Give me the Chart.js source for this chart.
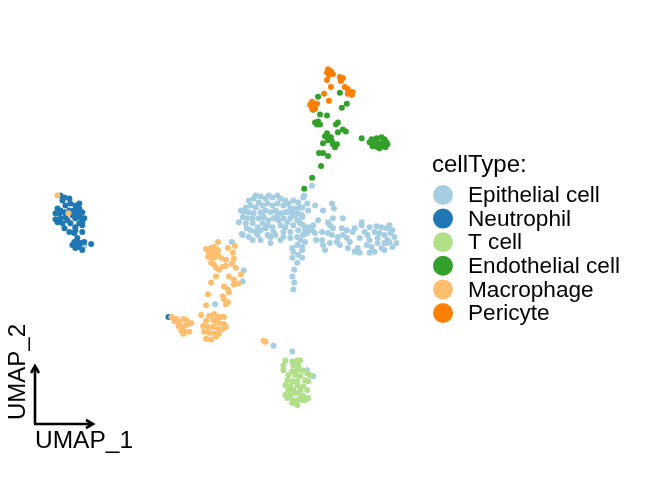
<!DOCTYPE html>
<html>
<head>
<meta charset="utf-8">
<script src="https://cdn.jsdelivr.net/npm/chart.js@4/dist/chart.umd.min.js"></script>
<style>
html,body{margin:0;padding:0;background:#fff;}
#wrap{width:650px;height:480px;position:relative;}
</style>
</head>
<body>
<div id="wrap"><canvas id="c" width="650" height="480"></canvas></div>
<script>
// Cell types and colours (legend order)
const cellTypes = ["Epithelial cell","Neutrophil","T cell","Endothelial cell","Macrophage","Pericyte"];
const cellColors = ["#A6CEE3","#1F78B4","#B2DF8A","#33A02C","#FDBF6F","#FF7F00"];
const legendTitle = "cellType:";
const axisNames = ["UMAP_1","UMAP_2"];

// Embedding coordinates (UMAP_1, UMAP_2 in plot units; UMAP_2 grows downward in these units)
const epithelial = [
[268,195],[272,197],[277,195],[265,198],[293,200],[298,202],
[248,200],[253,198],[258,202],[250,205],[245,207],[255,207],[262,205],[267,203],[272,205],[277,203],[283,205],[288,203],[295,208],[300,207],
[243,212],[248,212],[253,213],[260,212],[265,210],[270,212],[275,210],[280,213],[287,212],[292,213],[298,213],
[242,217],[247,218],[252,218],[258,218],[263,217],[268,220],[273,218],[278,220],[283,218],[290,218],[297,220],[302,217],
[245,223],[252,223],[257,227],[262,223],[267,225],[272,227],[280,225],[285,227],[293,225],[300,223],
[250,230],[255,232],[260,230],[265,228],[273,232],[283,232],[290,232],[298,230],
[242,235],[248,237],[257,235],[267,235],[270,237],[275,235],[290,238],[297,237],[303,235],
[240,210],[238,222],[246,228],[252,240],[260,240],[270,243],[280,240],[285,212],[290,208],[280,198],[285,200],[260,196],[255,195],
[300,240],[305,230],[262,213],[277,215],[287,222],[295,215],[283,237],
[297,245],[292,248],[302,247],[293,252],[298,255],[292,258],[302,258],[297,263],
[294,270],[292,277],[294,283],[293,290],
[312,185],[304,195],[303,197],
[307,203],[308,210],[315,205],[323,210],[332,203],[334,208],[302,207],[302,215],
[318,220],[333,218],[343,218],[328,222],
[303,225],[308,227],[313,225],[312,230],[330,225],[333,228],[342,228],[347,230],[353,232],[362,222],[362,225],[370,227],[365,232],[377,226],[382,227],[387,228],[390,225],[393,230],
[307,233],[315,233],[322,232],[328,233],[332,235],[338,237],[343,235],[347,238],[360,238],[368,235],[378,238],[385,235],[388,240],[395,237],
[305,242],[322,240],[323,245],[330,243],[337,242],[350,242],[358,248],[367,245],[372,247],[378,243],[385,243],[390,242],[397,243],
[302,250],[325,250],[348,248],[355,252],[360,253],[370,253],[375,252],[382,248],[387,243],
[375,232],[380,233],[391,233],[393,247],[370,240],[385,250],[355,228],[340,245],[316,240],
[241,234],[231,242],[243,271],[242,282],[214,305],
[273,347],[292,353],[307,372],[313,378],[82,246]
];
const neutrophil = [
[58,195],[62,197],[60,200],[67,198],[68,203],[63,205],[73,205],[77,203],[55,208],[58,210],[53,213],[57,213],[62,212],[67,210],[72,210],[77,208],
[80,212],[75,213],[70,215],[63,217],[58,218],[55,222],[60,223],[65,220],[73,218],[78,217],[82,218],[80,222],[77,223],[68,223],[73,227],[80,225],
[62,228],[67,232],[72,233],[73,230],[80,232],[75,238],[72,242],[70,245],[75,243],[77,247],[78,243],[82,242],[73,248],[80,250],[89,244],[53,219],
[167,318]
];
const tcell = [
[285,362],[292,363],[297,362],[300,362],[283,367],[293,367],[298,367],[283,372],[292,373],[297,372],[302,372],[288,377],[295,377],[300,378],[307,375],[310,377],
[287,382],[292,383],[297,383],[305,382],[308,383],[285,387],[290,388],[297,387],[303,388],[288,392],[293,392],[300,392],[307,392],
[285,397],[290,397],[295,395],[300,397],[303,398],[287,400],[292,402],[297,402],[302,402],[292,405],[297,407],[305,402],[308,400]
];
const endothelial = [
[318,95],[340,91],[347,102],[342,106],[313,108],[320,113],[327,114],[318,120],[315,121],[317,123],[320,123],[338,121],[336,123],
[343,128],[338,131],[346,130],[327,132],[328,135],[325,135],[331,136],[332,140],[328,139],[323,142],[333,143],[337,143],[335,146],
[362,137],[372,138],[377,137],[382,136],[385,138],[375,142],[380,142],[383,142],[387,141],[373,145],[378,146],[383,145],[388,143],[380,147],[370,141],[386,146],[376,140],
[323,152],[319,152],[328,155],[321,165],[312,177],[304,188]
];
const macrophage = [
[217,242],[227,248],[234,246],[205,249],[210,248],[213,247],[217,250],[208,253],[212,253],[207,257],[210,258],[213,258],[217,255],[220,258],[225,260],[232,253],[233,259],
[210,263],[213,265],[215,268],[218,270],[222,267],[225,266],[231,264],[235,268],[215,277],[228,277],[240,275],[233,280],[210,283],[223,287],[227,290],[228,293],[238,284],[233,285],
[207,295],[222,297],[223,300],[225,305],[227,303],[205,306],
[200,316],[205,322],[208,317],[213,315],[217,318],[220,318],[223,318],[212,321],[215,323],[218,324],[223,325],[202,327],[207,328],[212,328],[217,330],[222,330],[225,328],[203,333],[208,334],[213,335],[218,335],[205,340],[210,341],[215,338],
[170,318],[173,322],[175,320],[178,323],[182,320],[185,321],[187,325],[190,324],[177,327],[183,327],[180,332],[183,333],[188,333],[182,335],
[55,195],[66,213],[263,342],[265,343]
];
const pericyte = [
[328,67],[331,69],[333,72],[329,73],[327,70],[327,78],[340,75],[343,76],[341,79],[331,85],
[345,85],[348,87],[350,90],[353,90],[352,93],[348,92],[324,92],[329,99],
[312,100],[310,103],[313,103],[317,102],[315,107],[312,107]
];

const groups = [epithelial, neutrophil, tcell, endothelial, macrophage, pericyte];

const datasets = groups.map((g, i) => ({
  label: cellTypes[i],
  data: g.map(p => ({x: p[0], y: p[1]})),
  backgroundColor: cellColors[i],
  borderWidth: 0,
  pointRadius: 3,
  pointHoverRadius: 3,
  order: groups.length - i
}));

const FONT = "'Liberation Sans', Arial, Helvetica, sans-serif";

const decorPlugin = {
  id: 'decor',
  afterDraw(chart) {
    const ctx = chart.ctx;
    ctx.save();
    // legend
    ctx.fillStyle = '#000';
    ctx.textBaseline = 'alphabetic';
    ctx.textAlign = 'left';
    ctx.font = '24px ' + FONT;
    ctx.fillText(legendTitle, 432, 172);
    const y0 = 195, dy = 23.6;
    cellTypes.forEach((name, i) => {
      const y = y0 + i * dy;
      ctx.beginPath();
      ctx.fillStyle = cellColors[i];
      ctx.arc(443, y, 10, 0, Math.PI * 2);
      ctx.fill();
      ctx.fillStyle = '#000';
      ctx.textBaseline = 'middle';
      ctx.font = '22.6px ' + FONT;
      ctx.fillText(name, 468, y + 1);
    });
    // axis arrows
    ctx.strokeStyle = '#000';
    ctx.lineWidth = 2.6;
    ctx.lineCap = 'butt';
    ctx.beginPath();
    ctx.moveTo(35, 424);
    ctx.lineTo(35, 366);
    ctx.moveTo(34, 424);
    ctx.lineTo(93, 424);
    ctx.stroke();
    ctx.lineJoin = 'miter';
    ctx.beginPath();
    ctx.moveTo(31, 373); ctx.lineTo(35, 366); ctx.lineTo(39, 373);
    ctx.moveTo(86, 420); ctx.lineTo(93, 424); ctx.lineTo(86, 428);
    ctx.stroke();
    // axis labels
    ctx.fillStyle = '#000';
    ctx.textBaseline = 'alphabetic';
    ctx.font = '24.5px ' + FONT;
    ctx.fillText(axisNames[0], 35, 448);
    ctx.translate(25, 420);
    ctx.rotate(-Math.PI / 2);
    ctx.font = '24px ' + FONT;
    ctx.fillText(axisNames[1], 0, 0);
    ctx.restore();
  }
};

new Chart(document.getElementById('c'), {
  type: 'scatter',
  data: { datasets },
  options: {
    responsive: false,
    animation: false,
    layout: { padding: 0 },
    plugins: { legend: { display: false }, tooltip: { enabled: false } },
    scales: {
      x: { display: false, min: 0, max: 650 },
      y: { display: false, min: 0, max: 480, reverse: true }
    }
  },
  plugins: [decorPlugin]
});
</script>
</body>
</html>
